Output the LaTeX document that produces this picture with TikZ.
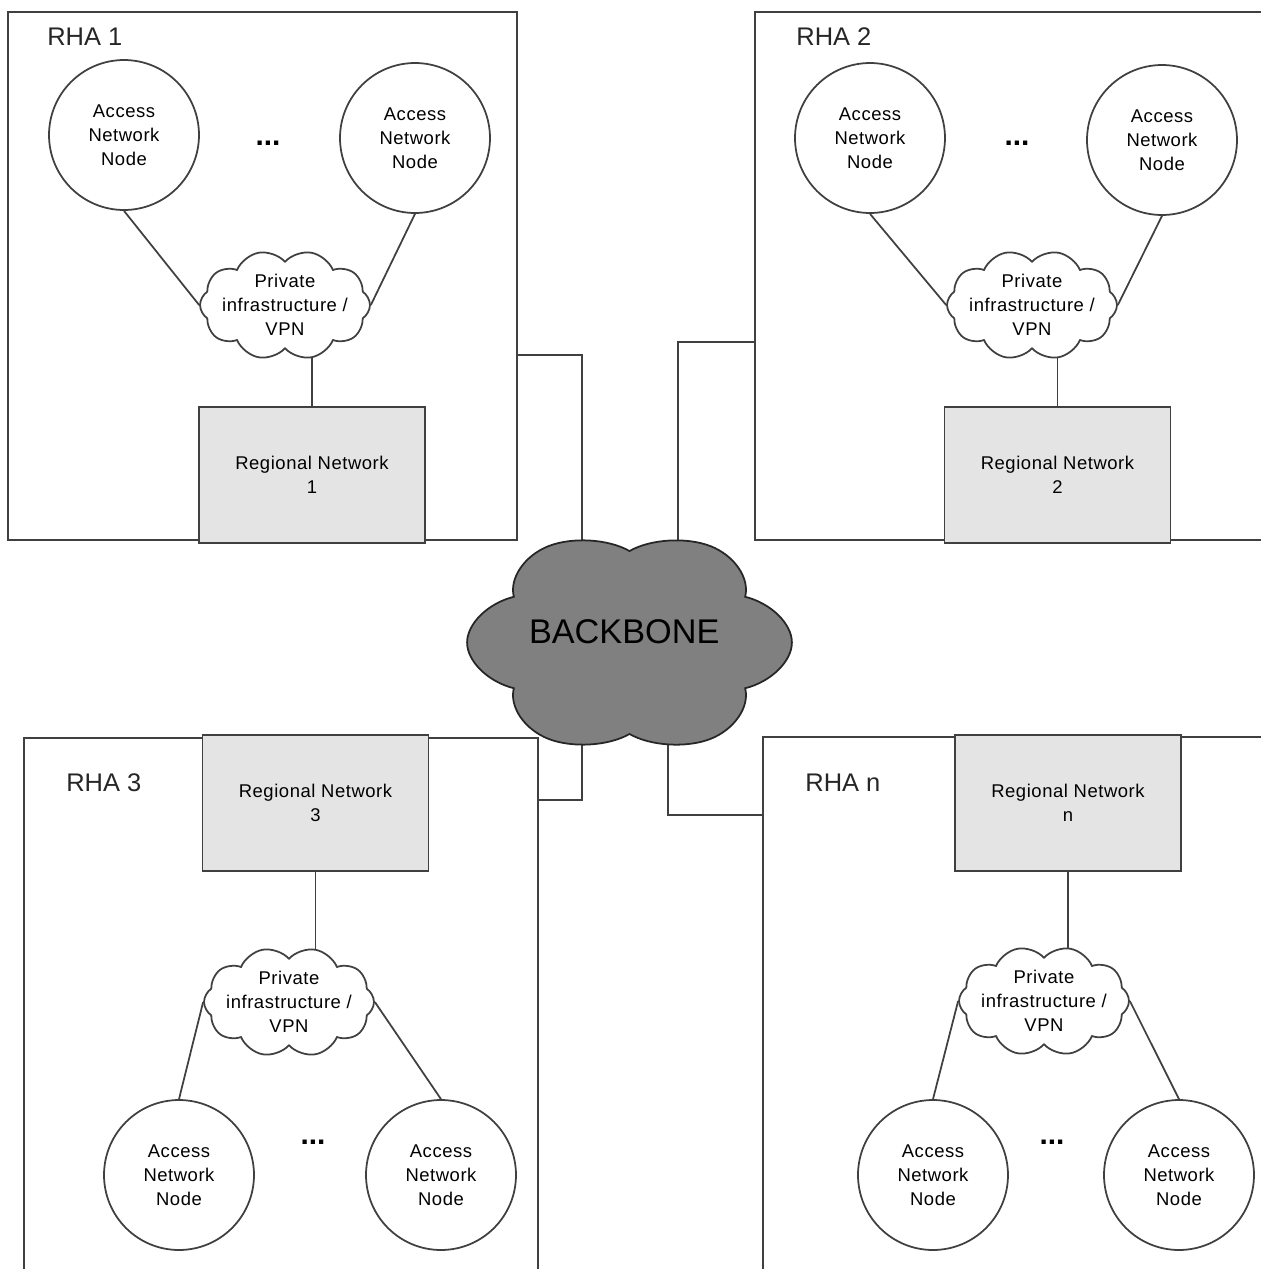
\documentclass[tikz,border=0pt]{standalone}
\usepackage{fontspec}
\setmainfont{Liberation Sans}
\newfontfamily\labelfont[LetterSpace=3]{Liberation Sans}
\usetikzlibrary{shapes.symbols,backgrounds}
\definecolor{linegray}{RGB}{64,64,64}
\definecolor{regionfill}{RGB}{228,228,228}
\definecolor{backbonefill}{RGB}{128,128,128}
\tikzset{
  link/.style={line width=1pt, draw=linegray},
  area/.style={rectangle, draw=linegray, line width=1pt, inner sep=0pt},
  areatitle/.style={anchor=west, inner sep=0pt, font=\fontsize{14.5}{16}\selectfont, text=black!85},
  access/.style={circle, draw=linegray, line width=1pt, fill=white, minimum size=3cm,
    inner sep=0pt, align=center, font=\labelfont\fontsize{10.5}{13.6}\selectfont},
  % clouds are turned by 90 degrees so that a dip sits at the top
  vpn/.style={cloud, rotate=90, cloud puffs=10, cloud puff arc=115, aspect=0.645, draw=linegray,
    line width=1pt, fill=white, minimum width=2.2cm, minimum height=3.4cm, inner sep=0pt},
  vpntext/.style={inner sep=0pt, align=center, font=\labelfont\fontsize{10.5}{13.8}\selectfont},
  regional/.style={rectangle, draw=linegray, line width=1pt, fill=regionfill, minimum width=4.52cm,
    minimum height=2.72cm, align=center, font=\labelfont\fontsize{10.5}{13.6}\selectfont},
  backbone/.style={cloud, xscale=1.46, rotate=90, cloud puffs=6, cloud puff arc=140, aspect=1,
    draw=black!85, line width=1pt, fill=backbonefill, minimum size=4.45cm, inner sep=0pt},
  bbtext/.style={inner sep=0pt, font=\fontsize{19.5}{22}\selectfont},
  more/.style={inner sep=0pt, font=\bfseries\fontsize{17}{18}\selectfont}
}

\begin{document}
\begin{tikzpicture}[x=0.02cm, y=-0.02cm]
  \useasboundingbox (0,0) rectangle (1261,1269);
  \clip (0,0) rectangle (1261,1269);

  % Regional areas.
  \node[area, minimum width=10.18cm, minimum height=10.56cm] (rha1) at (262.5,276) {};
  \node[area, minimum width=10.9cm, minimum height=10.56cm] (rha2) at (1027.5,276) {};
  \node[area, minimum width=10.28cm, minimum height=11.64cm] (rha3) at (281,1029) {};
  \node[area, minimum width=10.74cm, minimum height=11.66cm] (rhan) at (1031.5,1028.5) {};
  \node[areatitle] (t1) at (47,37) {RHA 1};
  \node[areatitle] (t2) at (796,37) {RHA 2};
  \node[areatitle] (t3) at (66,783) {RHA 3};
  \node[areatitle] (tn) at (805,783) {RHA n};

  % RHA 1.
  \node[access] (a11) at (124,135) {Access\\Network\\Node};
  \node[access] (a12) at (415,138) {Access\\Network\\Node};
  \node[more] (m1) at (268,143) {...};
  \node[vpn] (vpn1) at (285,305) {};
  \node[vpntext] (vpn1txt) at (vpn1.center) {Private\\infrastructure /\\VPN};
  \node[regional] (rn1) at (312,475) {Regional Network\\1};

  % RHA 2.
  \node[access] (a21) at (870,138) {Access\\Network\\Node};
  \node[access] (a22) at (1162,140) {Access\\Network\\Node};
  \node[more] (m2) at (1017,143) {...};
  \node[vpn] (vpn2) at (1032,305) {};
  \node[vpntext] (vpn2txt) at (vpn2.center) {Private\\infrastructure /\\VPN};
  \node[regional] (rn2) at (1057.5,475) {Regional Network\\2};

  % RHA 3.
  \node[regional] (rn3) at (315.5,803) {Regional Network\\3};
  \node[vpn] (vpn3) at (289,1002) {};
  \node[vpntext] (vpn3txt) at (vpn3.center) {Private\\infrastructure /\\VPN};
  \node[access] (a31) at (179,1175) {Access\\Network\\Node};
  \node[access] (a32) at (441,1175) {Access\\Network\\Node};
  \node[more] (m3) at (313,1142) {...};

  % RHA n.
  \node[regional] (rnn) at (1068,803) {Regional Network\\n};
  \node[vpn] (vpnn) at (1044,1001) {};
  \node[vpntext] (vpnntxt) at (vpnn.center) {Private\\infrastructure /\\VPN};
  \node[access] (an1) at (933,1175) {Access\\Network\\Node};
  \node[access] (an2) at (1179,1175) {Access\\Network\\Node};
  \node[more] (mn) at (1052,1142) {...};

  % Backbone.
  \node[backbone] (bb) at (629.5,642.5) {};
  \node[bbtext, xshift=-3pt, yshift=6pt] (bbtxt) at (bb.center) {BACKBONE};

  % Junctions of the area links.
  \coordinate (j1) at (582,355);
  \coordinate (j2) at (678,342);
  \coordinate (j3) at (582,800);
  \coordinate (j4) at (668,815);

  \begin{scope}[on background layer]
    % Links inside the areas (turned clouds: north is left, south is right).
    \draw[link] (a11.south) -- (vpn1.north);
    \draw[link] (a12.south) -- (vpn1.south);
    \draw[link] (rn1.north) -- (rn1.north |- vpn1.center);
    \draw[link] (a21.south) -- (vpn2.north);
    \draw[link] (a22.south) -- (vpn2.south);
    \draw[link] (rn2.north) -- (rn2.north |- vpn2.center);
    \draw[link] (rn3.south) -- (rn3.south |- vpn3.center);
    \draw[link] (vpn3.north) -- (a31.north);
    \draw[link] (vpn3.south) -- (a32.north);
    \draw[link] (rnn.south) -- (rnn.south |- vpnn.center);
    \draw[link] (vpnn.north) -- (an1.north);
    \draw[link] (vpnn.south) -- (an2.north);

    % Links to the backbone.
    \draw[link] (rha1.east |- j1) -| (j1 |- bb.center);
    \draw[link] (rha2.west |- j2) -| (j2 |- bb.center);
    \draw[link] (rha3.east |- j3) -| (j3 |- bb.center);
    \draw[link] (rhan.west |- j4) -| (j4 |- bb.center);
  \end{scope}
\end{tikzpicture}
\end{document}
